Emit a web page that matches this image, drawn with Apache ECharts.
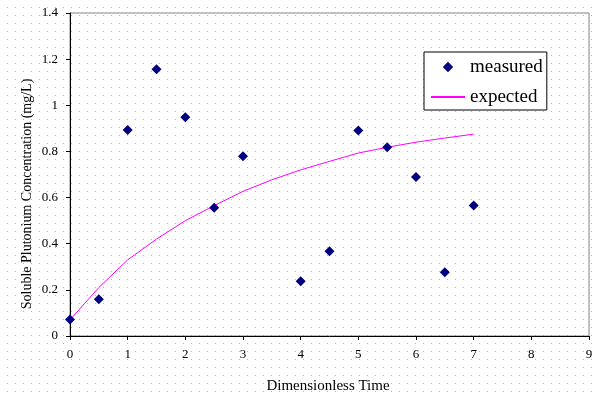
<!DOCTYPE html>
<html><head><meta charset="utf-8">
<script src="https://cdn.jsdelivr.net/npm/echarts@6/dist/echarts.min.js"></script>
<style>html,body{margin:0;padding:0;background:#fff}#c{width:597px;height:396px}</style>
</head><body><div id="c"></div>
<script>
var measuredX = [0, 0.5, 1, 1.5, 2, 2.5, 3, 4, 4.5, 5, 5.5, 6, 6.5, 7];
var measuredY = [0.072, 0.159, 0.893, 1.156, 0.948, 0.556, 0.779, 0.237, 0.367, 0.891, 0.818, 0.689, 0.276, 0.566];
var expectedX = [0, 0.5, 1, 1.5, 2, 2.5, 3, 3.5, 4, 4.5, 5, 5.5, 6, 6.5, 7];
var expectedY = [0.07, 0.21, 0.33, 0.42, 0.50, 0.565, 0.627, 0.677, 0.72, 0.757, 0.793, 0.818, 0.84, 0.858, 0.875];
var xTicks = [0, 1, 2, 3, 4, 5, 6, 7, 8, 9];
var yTicks = [0, 0.2, 0.4, 0.6, 0.8, 1, 1.2, 1.4];
var xTitle = 'Dimensionless Time';
var yTitle = 'Soluble Plutonium Concentration (mg/L)';

var pc = document.createElement('canvas');
pc.width = 8; pc.height = 8;
var pctx = pc.getContext('2d');
pctx.fillStyle = '#fff'; pctx.fillRect(0, 0, 8, 8);
pctx.fillStyle = '#b4b4b4'; pctx.fillRect(7, 7, 1, 1);

var font = '"Liberation Serif", "Times New Roman", serif';
var chart = echarts.init(document.getElementById('c'));
chart.setOption({
  animation: false,
  backgroundColor: { image: pc, repeat: 'repeat' },
  grid: { left: 70, right: 8, top: 13, bottom: 60, show: true, borderColor: '#808080', borderWidth: 1, backgroundColor: 'transparent' },
  xAxis: {
    type: 'value', min: xTicks[0], max: xTicks[xTicks.length - 1], interval: 1,
    axisLine: { lineStyle: { color: '#000', width: 1 } },
    axisTick: { show: true, length: 4, lineStyle: { color: '#000' } },
    axisLabel: { color: '#000', fontFamily: font, fontSize: 13, margin: 12 },
    splitLine: { show: false }
  },
  yAxis: {
    type: 'value', min: yTicks[0], max: yTicks[yTicks.length - 1], interval: 0.2,
    axisLine: { show: true, lineStyle: { color: '#000', width: 1 } },
    axisTick: { show: true, length: 4, lineStyle: { color: '#000' } },
    axisLabel: { color: '#000', fontFamily: font, fontSize: 13, margin: 12 },
    splitLine: { show: false }
  },
  legend: {
    orient: 'vertical', left: 424, top: 52,
    backgroundColor: '#fff', borderColor: '#000', borderWidth: 1, borderRadius: 0,
    padding: [5, 4, 3, 6],
    itemWidth: 34, itemHeight: 13, itemGap: 10,
    textStyle: { color: '#000', fontFamily: font, fontSize: 19, lineHeight: 20 },
    data: [
      { name: 'measured', lineStyle: { opacity: 0 } },
      { name: 'expected', itemStyle: { opacity: 0 } }
    ]
  },
  graphic: [
    { type: 'text', x: 328, y: 386, style: { text: xTitle, font: '15px ' + font, fill: '#000', textAlign: 'center', textVerticalAlign: 'middle' } },
    { type: 'text', x: 27, y: 194, rotation: Math.PI / 2, style: { text: yTitle, font: '14px ' + font, fill: '#000', textAlign: 'center', textVerticalAlign: 'middle' } }
  ],
  series: [
    {
      name: 'measured', type: 'line', symbol: 'diamond', symbolSize: 10, showSymbol: true,
      lineStyle: { width: 0, opacity: 0 },
      itemStyle: { color: '#000080', borderWidth: 0 },
      data: measuredX.map(function (x, i) { return [x, measuredY[i]]; }),
      z: 3
    },
    {
      name: 'expected', type: 'line', symbol: 'none', smooth: false,
      lineStyle: { color: '#ff00ff', width: 1 }, itemStyle: { color: '#ff00ff' },
      data: expectedX.map(function (x, i) { return [x, expectedY[i]]; }),
      z: 2
    }
  ]
});
</script></body></html>
